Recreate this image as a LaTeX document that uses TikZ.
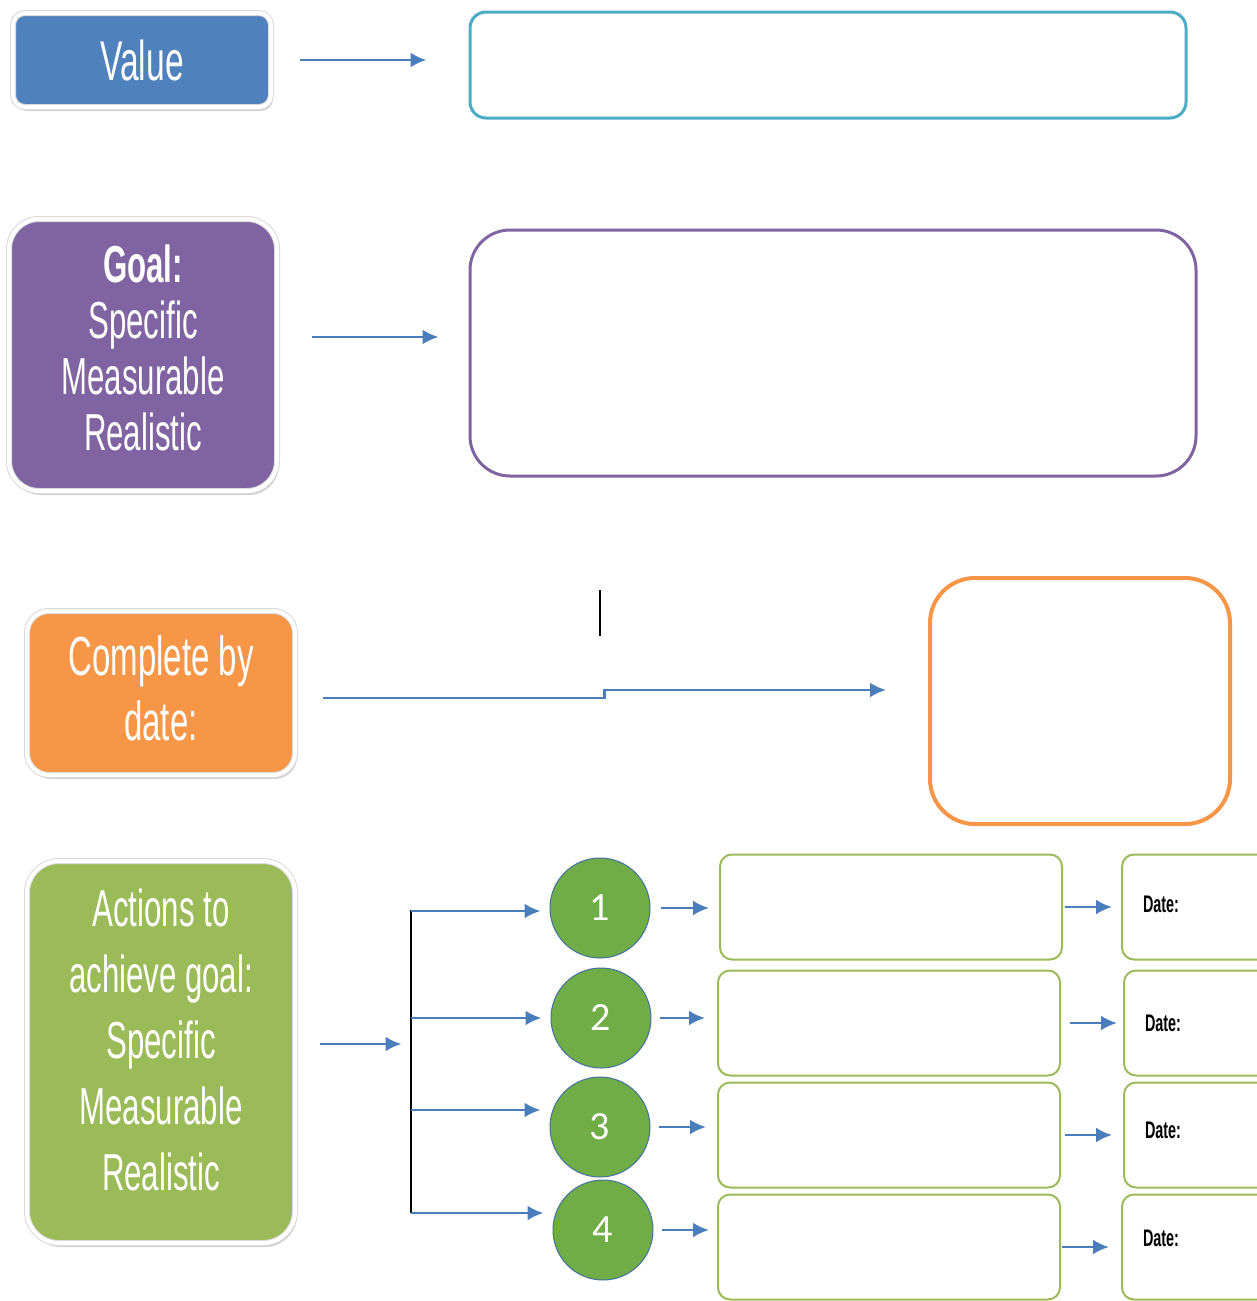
\documentclass[tikz,border=0pt]{standalone}
\usepackage{fontspec}
\usepackage{tikz}
\usetikzlibrary{arrows.meta,shadows}
\newfontfamily\agency[FakeStretch=0.6]{Liberation Sans}
\newfontfamily\calibri{Carlito}
\definecolor{valblue}{HTML}{4F81BD}
\definecolor{valcyan}{HTML}{4BACC6}
\definecolor{goalpurple}{HTML}{8064A2}
\definecolor{dueorange}{HTML}{F79646}
\definecolor{actgreen}{HTML}{9BBB59}
\definecolor{numgreen}{HTML}{70AD47}
\definecolor{numedge}{HTML}{41719C}
\definecolor{linkblue}{HTML}{4A7EBB}

\begin{document}
\begin{tikzpicture}[x=1pt, y=-1pt,
  tab/.style = {rounded corners=#1, draw=black!15, line width=1pt, double=white, double distance=4pt,
    text=white, align=center, drop shadow={shadow xshift=2pt, shadow yshift=-4pt, opacity=0.35}},
  tabtext/.style = {text=white, align=center, yshift=#1},
  frame/.style = {draw=#1, line width=3pt},
  num/.style = {circle, fill=numgreen, draw=numedge, line width=1pt, minimum size=100pt,
    text=white, font=\calibri\fontsize{40}{40}\selectfont},
  slot/.style = {draw=actgreen, line width=2pt, rounded corners=12pt, minimum width=342pt, minimum height=105pt},
  dateslot/.style = {slot, minimum width=168pt, text width=126pt, align=left, font=\agency\bfseries\fontsize{24}{24}\selectfont},
  conn/.style = {draw=linkblue, line width=2.8pt, -{Latex[length=16pt,width=15pt]}}]
\clip (0,0) rectangle (1257,1301);

\node[tab=12pt, fill=valblue, minimum width=258pt, minimum height=94pt, font=\agency\fontsize{56}{60}\selectfont] (value) at (142,60) {Value};
\node[frame=valcyan, rounded corners=16pt, minimum width=716pt, minimum height=106pt] (valuebox) at (828,65) {};

\node[tab=30pt, fill=goalpurple, minimum width=268pt, minimum height=272pt,
  label={[tabtext=7pt, font=\agency\fontsize{52}{56}\selectfont]center:{\textbf{Goal:}\\Specific\\Measurable\\Realistic}}] (goal) at (143,355) {};
\node[frame=goalpurple, rounded corners=40pt, minimum width=726pt, minimum height=246pt] (goalbox) at (833,353) {};

\node[tab=22pt, fill=dueorange, minimum width=268pt, minimum height=164pt,
  label={[tabtext=5pt, font=\agency\fontsize{55}{65}\selectfont]center:{Complete by\\date:}}] (due) at (161,693) {};
\node[frame=dueorange, line width=4pt, rounded corners=45pt, minimum width=300pt, minimum height=246pt] (duebox) at (1080,701) {};

\node[tab=32pt, fill=actgreen, minimum width=268pt, minimum height=382pt,
  label={[tabtext=12pt, font=\agency\fontsize{52}{66}\selectfont]center:{Actions to\\achieve goal:\\Specific\\Measurable\\Realistic}}] (actions) at (161,1052) {};

\node[num] (c1) at (600,908) {1};
\node[num] (c2) at (601,1018) {2};
\node[num] (c3) at (600,1127) {3};
\node[num] (c4) at (603,1230) {4};
\node[slot] (s1) at (891,907) {};
\node[slot] (s2) at (889,1023) {};
\node[slot] (s3) at (889,1135) {};
\node[slot] (s4) at (889,1247) {};
\node[dateslot, text depth=6pt] (d1) at (1206,907) {Date:};
\node[dateslot] (d2) at (1208,1023) {Date:};
\node[dateslot, text depth=10pt] (d3) at (1208,1135) {Date:};
\node[dateslot, text depth=18pt] (d4) at (1206,1247) {Date:};

\coordinate (caret) at (600,590);
\coordinate (bustop) at (411,910);
\coordinate (busbot) at (411,1213);
\coordinate (t1) at ([xshift=-9pt,yshift=-3pt]c1.west);
\coordinate (t2) at ([xshift=-9pt]c2.west);
\coordinate (t3) at ([xshift=-9pt,yshift=17pt]c3.west);
\coordinate (t4) at ([xshift=-9pt,yshift=17pt]c4.west);

\draw[line width=2pt] (caret) -- ++(0,46);
\draw[line width=2.5pt] (bustop) -- (busbot);

\draw[conn, shorten <=28pt, shorten >=42pt] (value.east) -- (value.east -| valuebox.west);
\draw[conn, shorten <=34pt, shorten >=30pt] ([yshift=18pt]goal.east) -- ([yshift=18pt]goal.east -| goalbox.west);
\draw[conn] ([xshift=27pt,yshift=-5pt]due.east) -- ++(282,0) -- ++(0,-8) -- ([xshift=-42pt,yshift=11pt]duebox.west);
\draw[conn] ([xshift=24pt,yshift=8pt]actions.east) -- ++(82,0);

\draw[conn] (bustop |- t1) -- (t1);
\draw[conn] (bustop |- t2) -- (t2);
\draw[conn] (bustop |- t3) -- (t3);
\draw[conn] (busbot) -- (t4);

\draw[conn, shorten <=10pt, shorten >=10pt] (c1.east) -- (c1.east -| s1.west);
\draw[conn, shorten <=8pt, shorten >=12pt] (c2.east) -- (c2.east -| s2.west);
\draw[conn, shorten <=8pt, shorten >=11pt] (c3.east) -- (c3.east -| s3.west);
\draw[conn, shorten <=8pt, shorten >=8pt] (c4.east) -- (c4.east -| s4.west);

\draw[conn, shorten <=2pt, shorten >=9pt] (s1.east) -- (s1.east -| d1.west);
\draw[conn, shorten <=9pt, shorten >=6pt] (s2.east) -- (s2.east -| d2.west);
\draw[conn, shorten <=4pt, shorten >=11pt] (s3.east) -- (s3.east -| d3.west);
\draw[conn, shorten <=1pt, shorten >=12pt] (s4.east) -- (s4.east -| d4.west);
\end{tikzpicture}
\end{document}
